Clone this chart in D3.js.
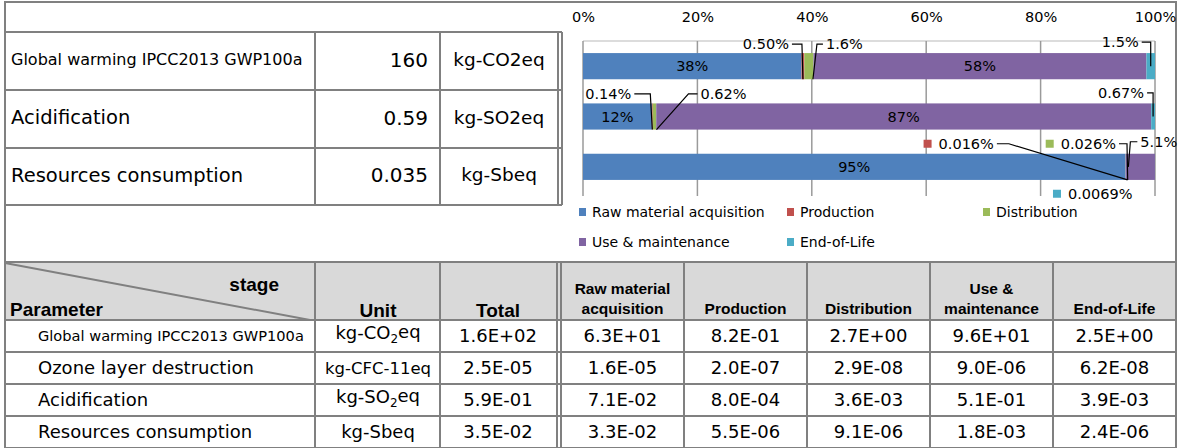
<!DOCTYPE html>
<html lang="en">
<head>
<meta charset="UTF-8">
<title>LCA results by stage</title>
<script src="https://d3js.org/d3.v7.min.js"></script>
<style>
  body { margin: 0; background: #fff; }
  svg { display: block; }
  .tx { font-family: "DejaVu Sans", Verdana, sans-serif; fill: #000; }
  .hdr { font-family: "Liberation Sans", Arial, sans-serif; font-weight: bold; fill: #000; }
</style>
</head>
<body>
<div id="visualization"></div>
<script>
// life cycle stages
const stages = ["Raw material acquisition", "Production", "Distribution", "Use & maintenance", "End-of-Life"];
const stageHeaders = [["Raw material", "acquisition"], ["Production"], ["Distribution"], ["Use &", "maintenance"], ["End-of-Life"]];
const stageColors = ["#4F81BD", "#C0504D", "#9BBB59", "#8064A2", "#4BACC6"];

// summary table (top left)
const summaryParams = ["Global warming IPCC2013 GWP100a", "Acidification", "Resources consumption"];
const summaryTotals = ["160", "0.59", "0.035"];
const summaryUnits = ["kg-CO2eq", "kg-SO2eq", "kg-Sbeq"];

// chart: share of each stage in %, one array per impact
const chartCategories = ["Global warming", "Acidification", "Resources consumption"];
const gwpShare = [38.2, 0.50, 1.6, 58.2, 1.5];
const acidShare = [12.07, 0.14, 0.62, 86.7, 0.67];
const resShare = [94.8, 0.016, 0.026, 5.1, 0.0069];
const xTicks = [0, 0.2, 0.4, 0.6, 0.8, 1];

// detail table (bottom)
const params = ["Global warming IPCC2013 GWP100a", "Ozone layer destruction", "Acidification", "Resources consumption"];
const units = [["kg-CO", "2", "eq"], ["kg-CFC-11eq"], ["kg-SO", "2", "eq"], ["kg-Sbeq"]];
const totals = [1.6e2, 2.5e-5, 5.9e-1, 3.5e-2];
const rawValues = [6.3e1, 1.6e-5, 7.1e-2, 3.3e-2];
const productionValues = [8.2e-1, 2.0e-7, 8.0e-4, 5.5e-6];
const distributionValues = [2.7e0, 2.9e-8, 3.6e-3, 9.1e-6];
const useValues = [9.6e1, 9.0e-6, 5.1e-1, 1.8e-3];
const eolValues = [2.5e0, 6.2e-8, 3.9e-3, 2.4e-6];

const width = 1186, height = 448;
const lineColor = "#808080";

const svg = d3.select("#visualization").append("svg")
    .attr("width", width).attr("height", height);

// outer frame
svg.append("rect").attr("x", 5).attr("y", 2).attr("width", 1171).attr("height", 460)
    .attr("fill", "none").attr("stroke", lineColor).attr("stroke-width", 2);

// ---------- summary table ----------
const sCols = [5, 315, 440, 558];
const sRows = [32, 90, 148, 205];
const sum = svg.append("g");
sRows.forEach(yy => sum.append("line").attr("x1", 5).attr("x2", 562).attr("y1", yy).attr("y2", yy)
    .attr("stroke", lineColor).attr("stroke-width", 2));
sCols.concat([562]).forEach(xx => sum.append("line").attr("x1", xx).attr("x2", xx).attr("y1", 32).attr("y2", 205)
    .attr("stroke", lineColor).attr("stroke-width", 2));

summaryParams.forEach((p, i) => {
    const cy = (sRows[i] + sRows[i + 1]) / 2 - 1.5;
    sum.append("text").attr("class", "tx").attr("x", 11).attr("y", cy).attr("dy", "0.35em")
        .style("font-size", i === 0 ? "16px" : "19.5px").text(p);
    sum.append("text").attr("class", "tx").attr("x", 428).attr("y", cy).attr("dy", "0.35em")
        .attr("text-anchor", "end").style("font-size", "20px").text(summaryTotals[i]);
    sum.append("text").attr("class", "tx").attr("x", 499).attr("y", cy).attr("dy", "0.35em")
        .attr("text-anchor", "middle").style("font-size", "18.5px").text(summaryUnits[i]);
});

// ---------- stacked 100% bar chart ----------
const x = d3.scaleLinear().domain([0, 1]).range([583, 1155]);
const y = d3.scaleBand().domain(chartCategories).range([41, 192]).paddingInner(0.48).paddingOuter(0.24);
const shares = [gwpShare, acidShare, resShare];
const rows = chartCategories.map((c, i) => {
    const o = { category: c };
    stages.forEach((s, j) => o[s] = shares[i][j]);
    return o;
});
const series = d3.stack().keys(stages).offset(d3.stackOffsetExpand)(rows);
const fmt = v => d3.format(".2r")(v) + "%";
const labelSize = "14.5px";

const chart = svg.append("g");
chart.append("line").attr("x1", x(0)).attr("x2", x(1)).attr("y1", 41).attr("y2", 41)
    .attr("stroke", "#d0d0d0").attr("stroke-width", 1.5);
chart.append("g").selectAll("line").data(xTicks).join("line")
    .attr("x1", d => x(d)).attr("x2", d => x(d)).attr("y1", 41).attr("y2", 196)
    .attr("stroke", "#9a9a9a").attr("stroke-width", 1.5);

const axis = chart.append("g").attr("transform", "translate(0,41)")
    .call(d3.axisTop(x).tickValues(xTicks).tickFormat(d3.format(".0%")).tickSize(0).tickPadding(19));
axis.select(".domain").remove();
axis.selectAll("text").attr("class", "tx").attr("fill", null).style("font-size", labelSize);

chart.append("g").selectAll("g").data(series).join("g")
    .attr("fill", (d, i) => stageColors[i])
    .selectAll("rect").data(d => d).join("rect")
    .attr("x", d => x(d[0])).attr("width", d => x(d[1]) - x(d[0]))
    .attr("y", d => y(d.data.category)).attr("height", y.bandwidth());

// labels inside the large segments
series.forEach((s, j) => s.forEach((d, i) => {
    if (shares[i][j] < 10) return;
    chart.append("text").attr("class", "tx").attr("text-anchor", "middle")
        .attr("x", x((d[0] + d[1]) / 2)).attr("y", y(d.data.category) + y.bandwidth() / 2).attr("dy", "0.35em")
        .style("font-size", labelSize).text(fmt(shares[i][j]));
}));

// callout labels for the thin segments
const callouts = [
    { row: 0, stage: 1, tx: -14, ty: -9, anchor: "end", side: "right", elbow: 10, end: [0, "bottom"] },
    { row: 0, stage: 2, tx: 17, ty: -9, anchor: "start", side: "left", elbow: 6, end: [4, "bottom"] },
    { row: 0, stage: 4, tx: -12, ty: -11, anchor: "end", side: "right", elbow: 9, end: [0, "mid"] },
    { row: 1, stage: 1, tx: -21, ty: -9.5, anchor: "end", side: "right", elbow: 16, end: [0, "bottom"] },
    { row: 1, stage: 2, tx: 46, ty: -9.5, anchor: "start", side: "left", elbow: 9, end: [2, "bottom"] },
    { row: 1, stage: 4, tx: -9, ty: -10.5, anchor: "end", side: "right", elbow: 6, end: [0, "mid"] },
    { row: 2, stage: 1, tx: -187, ty: -10, anchor: "start", side: "right", elbow: 12, end: [2, "bottom"], key: true },
    { row: 2, stage: 2, tx: -65, ty: -10, anchor: "start", side: "right", elbow: 8, end: [2, "bottom"], key: true },
    { row: 2, stage: 3, tx: 0, ty: -12, anchor: "start", side: "left", elbow: 7, end: [-12, "mid"] },
    { row: 2, stage: 4, tx: -87, ty: 40, anchor: "start", side: "none", key: true }
];

callouts.forEach(c => {
    const d = series[c.stage][c.row];
    const segX = x((d[0] + d[1]) / 2);
    const top = y(chartCategories[c.row]);
    const lx = segX + c.tx, ly = top + c.ty;
    const t = chart.append("text").attr("class", "tx").attr("text-anchor", c.anchor)
        .attr("x", lx).attr("y", ly).attr("dy", "0.35em").style("font-size", labelSize)
        .text(fmt(shares[c.row][c.stage]));
    const w = t.node().getComputedTextLength();
    const left = c.anchor === "end" ? lx - w : lx;
    const right = left + w;
    if (c.key) {
        chart.append("rect").attr("x", left - 15).attr("y", ly - 4).attr("width", 8).attr("height", 8)
            .attr("fill", stageColors[c.stage]);
    }
    if (c.side === "none") return;
    const x0 = c.side === "right" ? right + 3 : left - 3;
    const x1 = c.side === "right" ? x0 + c.elbow : x0 - c.elbow;
    const barY = c.end[1] === "bottom" ? top + y.bandwidth() : top + y.bandwidth() / 2;
    chart.append("path")
        .attr("d", d3.line()([[x0, ly], [x1, ly], [segX + c.end[0], barY]]))
        .attr("fill", "none").attr("stroke", "#000").attr("stroke-width", 1.2);
});

// legend
const legendX = [579, 787, 983];
const legend = chart.append("g").selectAll("g").data(stages).join("g")
    .attr("transform", (d, i) => `translate(${legendX[i % 3]},${212 + Math.floor(i / 3) * 30})`);
legend.append("rect").attr("x", 0).attr("y", -4).attr("width", 7).attr("height", 8)
    .attr("fill", (d, i) => stageColors[i]);
legend.append("text").attr("class", "tx").attr("x", 13).attr("dy", "0.35em")
    .style("font-size", "14px").text(d => d);

// ---------- detail table ----------
const dCols = [5, 315, 440, 557, 561, 684, 807, 930, 1053, 1176];
const dRows = [262, 320, 352, 384, 416, 448];
const tbl = svg.append("g");
tbl.append("rect").attr("x", 5).attr("y", 262).attr("width", 1171).attr("height", 58).attr("fill", "#d9d9d9");
dRows.forEach(yy => tbl.append("line").attr("x1", 5).attr("x2", 1176).attr("y1", yy).attr("y2", yy)
    .attr("stroke", lineColor).attr("stroke-width", 2));
dCols.forEach(xx => tbl.append("line").attr("x1", xx).attr("x2", xx).attr("y1", 262).attr("y2", 448)
    .attr("stroke", lineColor).attr("stroke-width", 2));
tbl.append("line").attr("x1", 5).attr("y1", 263).attr("x2", 310).attr("y2", 320)
    .attr("stroke", lineColor).attr("stroke-width", 2);

tbl.append("text").attr("class", "hdr").attr("x", 279).attr("y", 284).attr("dy", "0.35em")
    .attr("text-anchor", "end").style("font-size", "19px").text("stage");
tbl.append("text").attr("class", "hdr").attr("x", 10).attr("y", 309).attr("dy", "0.35em")
    .style("font-size", "19px").text("Parameter");
tbl.append("text").attr("class", "hdr").attr("x", 378).attr("y", 310).attr("dy", "0.35em")
    .attr("text-anchor", "middle").style("font-size", "19px").text("Unit");
tbl.append("text").attr("class", "hdr").attr("x", 498).attr("y", 310).attr("dy", "0.35em")
    .attr("text-anchor", "middle").style("font-size", "19px").text("Total");

stageHeaders.forEach((lines, j) => {
    const cx = (dCols[j + 4] + dCols[j + 5]) / 2;
    lines.forEach((ln, k) => {
        tbl.append("text").attr("class", "hdr").attr("x", cx)
            .attr("y", 309 - (lines.length - 1 - k) * 20).attr("dy", "0.35em")
            .attr("text-anchor", "middle").style("font-size", "15.5px").text(ln);
    });
});

const sci = v => {
    const [m, e] = v.toExponential(1).split("e");
    const n = +e;
    return m + "E" + (n < 0 ? "-" : "+") + String(Math.abs(n)).padStart(2, "0");
};
const stageValues = [rawValues, productionValues, distributionValues, useValues, eolValues];

params.forEach((p, i) => {
    const cy = (dRows[i + 1] + dRows[i + 2]) / 2;
    tbl.append("text").attr("class", "tx").attr("x", 38).attr("y", cy).attr("dy", "0.35em")
        .style("font-size", i === 0 ? "14.6px" : "18px").text(p);
    const u = tbl.append("text").attr("class", "tx").attr("x", 378).attr("y", cy - (units[i].length > 1 ? 3 : 0))
        .attr("dy", "0.35em").attr("text-anchor", "middle")
        .style("font-size", units[i][0] === "kg-CFC-11eq" ? "16.5px" : "18px");
    u.append("tspan").text(units[i][0]);
    if (units[i].length > 1) {
        u.append("tspan").attr("dy", "0.3em").style("font-size", "12px").text(units[i][1]);
        u.append("tspan").attr("dy", "-0.25em").text(units[i][2]);
    }
    tbl.append("text").attr("class", "tx").attr("x", 498).attr("y", cy).attr("dy", "0.35em")
        .attr("text-anchor", "middle").style("font-size", "18px").text(sci(totals[i]));
    stageValues.forEach((vals, j) => {
        const cx = (dCols[j + 4] + dCols[j + 5]) / 2;
        tbl.append("text").attr("class", "tx").attr("x", cx).attr("y", cy).attr("dy", "0.35em")
            .attr("text-anchor", "middle").style("font-size", "18px").text(sci(vals[i]));
    });
});
</script>
</body>
</html>
